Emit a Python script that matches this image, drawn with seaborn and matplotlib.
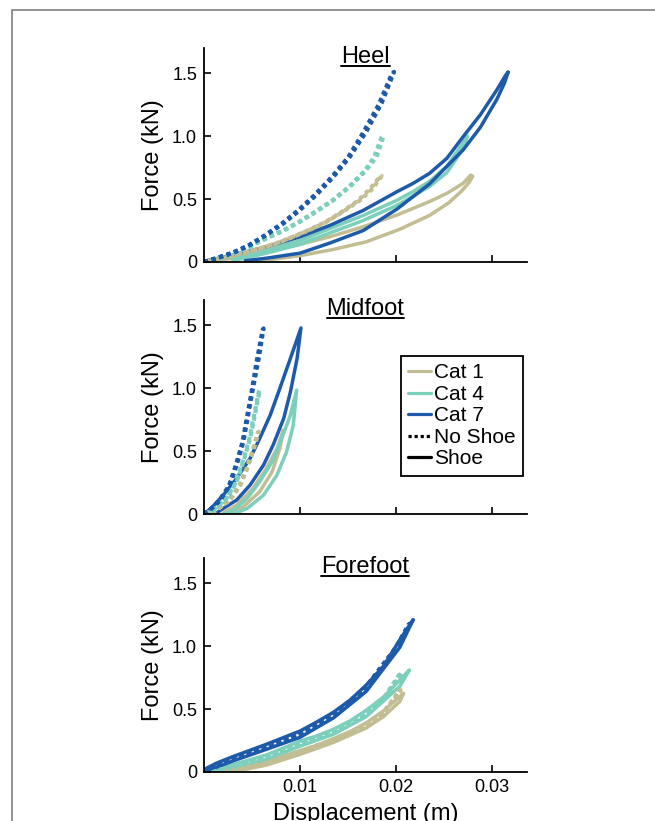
import numpy as np
import pandas as pd
import seaborn as sns
import matplotlib.pyplot as plt
from matplotlib.lines import Line2D
from matplotlib.patches import Rectangle

# displacement (m) / force (kN), one loop per curve
# ---- Heel ----
HEEL_C1_SHOE_X = [.0045, .0065, .0100, .0135, .0169, .0204, .0235, .0255, .0268, .0276, .0280,
                  .0278, .0270, .0253, .0235, .0218, .0201, .0166, .0131, .0100, .0065, .0031, .0003]
HEEL_C1_SHOE_F = [.005, .015, .05, .10, .16, .26, .37, .47, .56, .63, .68,
                  .69, .625, .545, .48, .426, .373, .28, .20, .14, .08, .03, .005]
HEEL_C4_SHOE_X = [.0030, .0065, .0100, .0131, .0166, .0201, .0235, .0253, .0263, .0271, .02745,
                  .0270, .0263, .0253, .0235, .0218, .0201, .0166, .0131, .0100, .0065, .0031, .0003]
HEEL_C4_SHOE_F = [.01, .07, .14, .23, .33, .45, .60, .71, .82, .92, 1.0,
                  .95, .87, .76, .64, .56, .49, .37, .265, .17, .095, .04, .01]
HEEL_C7_SHOE_X = [.0043, .0065, .0100, .0131, .0166, .0201, .0235, .0270, .0288, .0305, .0313, .0317,
                  .0314, .0305, .0288, .0270, .0253, .0235, .0218, .0201, .0166, .0131, .0100, .0065, .0031, .0003]
HEEL_C7_SHOE_F = [.01, .03, .07, .15, .25, .42, .62, .89, 1.07, 1.29, 1.42, 1.51,
                  1.48, 1.365, 1.17, .995, .823, .704, .625, .558, .41, .29, .20, .121, .056, .01]
HEEL_C1_BARE_X = [0, .0024, .0041, .0058, .0076, .0093, .0110, .0128, .0145, .0163, .0176, .0185,
                  .0183, .0173, .0160, .0143, .0126, .0108, .0091, .0074, .0056, .0039, .0022, 0]
HEEL_C1_BARE_F = [0, .04, .069, .106, .148, .20, .254, .32, .40, .492, .585, .683,
                  .675, .58, .485, .395, .315, .25, .195, .145, .103, .066, .037, 0]
HEEL_C4_BARE_X = [0, .0013, .0031, .0048, .0065, .0083, .0100, .0117, .0135, .0152, .0169, .0180, .0187,
                  .0185, .0177, .0167, .0150, .0133, .0115, .0098, .0081, .0063, .0046, .0029, .0011, 0]
HEEL_C4_BARE_F = [0, .025, .069, .121, .188, .249, .32, .40, .492, .598, .73, .836, 1.0,
                  .99, .83, .72, .59, .485, .395, .315, .245, .183, .117, .066, .022, 0]
HEEL_C7_BARE_X = [0, .0013, .0031, .0048, .0065, .0083, .0100, .0117, .0135, .0152, .0169, .0185, .0198,
                  .0196, .0182, .0166, .0150, .0133, .0115, .0098, .0081, .0063, .0046, .0029, .0011, 0]
HEEL_C7_BARE_F = [0, .029, .074, .135, .214, .307, .413, .532, .677, .836, 1.034, 1.26, 1.51,
                  1.50, 1.25, 1.03, .83, .675, .53, .41, .305, .21, .13, .072, .027, 0]

# ---- Midfoot ----
MID_C1_SHOE_X = [.0028, .0041, .0058, .0071, .0079, .00826, .0076, .0065, .0051, .0034, .0020]
MID_C1_SHOE_F = [.01, .058, .177, .336, .521, .667, .521, .362, .204, .071, .01]
MID_C4_SHOE_X = [.0031, .0045, .0062, .0076, .0086, .0093, .00965, .0090, .0081, .0071, .0058, .0045, .0031, .0020]
MID_C4_SHOE_F = [0, .045, .15, .31, .494, .706, .984, .786, .60, .415, .256, .124, .03, 0]
MID_C7_SHOE_X = [.0012, .0017, .0034, .0048, .0062, .0072, .0083, .0090, .0097, .0101,
                 .0090, .0079, .0069, .0058, .0048, .0034, .0020, .0008, 0]
MID_C7_SHOE_F = [0, .03, .111, .23, .389, .548, .759, .97, 1.236, 1.478,
                 1.236, .998, .786, .60, .442, .283, .15, .05, 0]
MID_C1_BARE_X = [0, .0011, .0027, .0038, .0045, .0051, .0057, .0056, .0050, .0044, .0037, .0026, .0010, 0]
MID_C1_BARE_F = [0, .02, .111, .23, .362, .494, .653, .645, .49, .355, .225, .108, .018, 0]
MID_C4_BARE_X = [0, .0010, .0024, .0034, .0041, .0048, .0053, .0058, .0057, .0052, .0047, .0040, .0033, .0023, .0009, 0]
MID_C4_BARE_F = [0, .03, .124, .256, .415, .60, .786, .984, .97, .78, .59, .41, .25, .12, .028, 0]
MID_C7_BARE_X = [0, .0006, .0017, .0027, .0034, .0041, .0046, .0051, .0057, .0062,
                 .0061, .0055, .0050, .0045, .0040, .0033, .0026, .0016, .0005, 0]
MID_C7_BARE_F = [0, .03, .111, .23, .389, .574, .786, .998, 1.236, 1.474,
                 1.46, 1.22, .99, .78, .57, .385, .225, .108, .027, 0]

# ---- Forefoot ----
FORE_C1_SHOE_X = [.0030, .0065, .0100, .0135, .0169, .0187, .0204, .0208,
                  .0204, .0187, .0169, .0152, .0135, .0117, .0100, .0065, .0031, .0015]
FORE_C1_SHOE_F = [0, .055, .14, .235, .35, .44, .56, .625,
                  .60, .485, .39, .32, .265, .21, .17, .08, .03, .005]
FORE_C4_SHOE_X = [.0020, .0031, .0065, .0100, .0135, .0169, .0204, .0214,
                  .0204, .0187, .0169, .0152, .0135, .0117, .0100, .0065, .0031, .0010]
FORE_C4_SHOE_F = [0, .03, .10, .205, .30, .44, .68, .81,
                  .73, .595, .49, .405, .34, .285, .245, .135, .06, .01]
FORE_C7_SHOE_X = [0, .0031, .0065, .0100, .0135, .0169, .0204, .0218,
                  .0204, .0187, .0169, .0152, .0135, .0117, .0100, .0065, .0031, .0013, 0]
FORE_C7_SHOE_F = [0, .09, .18, .275, .43, .64, .99, 1.21,
                  1.05, .84, .69, .57, .475, .395, .325, .22, .125, .07, .02]
FORE_C1_BARE_X = [.0020, .0065, .0100, .0135, .0169, .0187, .0205, .0203, .0185, .0165, .0130, .0095, .0060, .0018]
FORE_C1_BARE_F = [0, .07, .16, .254, .373, .466, .65, .64, .455, .36, .245, .15, .06, 0]
FORE_C4_BARE_X = [.0010, .0031, .0065, .0100, .0135, .0169, .0187, .0206,
                  .0204, .0185, .0165, .0130, .0095, .0060, .0028, .0008]
FORE_C4_BARE_F = [0, .045, .115, .228, .32, .466, .571, .79,
                  .78, .56, .45, .31, .215, .11, .04, 0]
FORE_C7_BARE_X = [0, .0013, .0031, .0065, .0100, .0135, .0169, .0204, .0215,
                  .0213, .0200, .0165, .0130, .0095, .0060, .0028, .0010, 0]
FORE_C7_BARE_F = [0, .05, .107, .20, .30, .452, .664, 1.02, 1.18,
                  1.17, .99, .64, .435, .285, .19, .10, .045, 0]

CATS = ['Cat 1', 'Cat 4', 'Cat 7']
COLORS = {'Cat 1': '#c3bd93', 'Cat 4': '#7ccfba', 'Cat 7': '#1e5aaa'}
PANELS = ['Heel', 'Midfoot', 'Forefoot']

curves = [
    ('Heel', 'Cat 1', 'Shoe', HEEL_C1_SHOE_X, HEEL_C1_SHOE_F),
    ('Heel', 'Cat 4', 'Shoe', HEEL_C4_SHOE_X, HEEL_C4_SHOE_F),
    ('Heel', 'Cat 7', 'Shoe', HEEL_C7_SHOE_X, HEEL_C7_SHOE_F),
    ('Heel', 'Cat 1', 'No Shoe', HEEL_C1_BARE_X, HEEL_C1_BARE_F),
    ('Heel', 'Cat 4', 'No Shoe', HEEL_C4_BARE_X, HEEL_C4_BARE_F),
    ('Heel', 'Cat 7', 'No Shoe', HEEL_C7_BARE_X, HEEL_C7_BARE_F),
    ('Midfoot', 'Cat 1', 'Shoe', MID_C1_SHOE_X, MID_C1_SHOE_F),
    ('Midfoot', 'Cat 4', 'Shoe', MID_C4_SHOE_X, MID_C4_SHOE_F),
    ('Midfoot', 'Cat 7', 'Shoe', MID_C7_SHOE_X, MID_C7_SHOE_F),
    ('Midfoot', 'Cat 1', 'No Shoe', MID_C1_BARE_X, MID_C1_BARE_F),
    ('Midfoot', 'Cat 4', 'No Shoe', MID_C4_BARE_X, MID_C4_BARE_F),
    ('Midfoot', 'Cat 7', 'No Shoe', MID_C7_BARE_X, MID_C7_BARE_F),
    ('Forefoot', 'Cat 1', 'Shoe', FORE_C1_SHOE_X, FORE_C1_SHOE_F),
    ('Forefoot', 'Cat 4', 'Shoe', FORE_C4_SHOE_X, FORE_C4_SHOE_F),
    ('Forefoot', 'Cat 7', 'Shoe', FORE_C7_SHOE_X, FORE_C7_SHOE_F),
    ('Forefoot', 'Cat 1', 'No Shoe', FORE_C1_BARE_X, FORE_C1_BARE_F),
    ('Forefoot', 'Cat 4', 'No Shoe', FORE_C4_BARE_X, FORE_C4_BARE_F),
    ('Forefoot', 'Cat 7', 'No Shoe', FORE_C7_BARE_X, FORE_C7_BARE_F),
]

rows = []
for i, (panel, cat, cond, xs, fs) in enumerate(curves):
    for k, (x, f) in enumerate(zip(xs, fs)):
        rows.append({'Region': panel, 'Category': cat, 'Footwear': cond,
                     'curve': i, 'order': k, 'disp': x, 'force': f})
df = pd.DataFrame(rows)

sns.set_style('ticks')
plt.rcParams['font.family'] = ['Liberation Sans', 'DejaVu Sans']
plt.rcParams.update({'text.color': 'black', 'axes.labelcolor': 'black',
                     'xtick.color': 'black', 'ytick.color': 'black',
                     'axes.edgecolor': 'black'})

fig = plt.figure(figsize=(6.55, 8.21), dpi=100)
fig.add_artist(Rectangle((12 / 655, -0.5), 2, 1.5 - 10 / 821, transform=fig.transFigure,
                         fill=False, edgecolor='#8a8a8a', linewidth=1.3))

bottoms = [0.6809, 0.3739, 0.0597]
axes = []
titles = []
for panel, b in zip(PANELS, bottoms):
    ax = fig.add_axes([0.3115, b, 0.493, 0.2607])
    sub = df[df['Region'] == panel]
    for cond, lw in [('Shoe', 2.5), ('No Shoe', 3.0)]:
        part = sub[sub['Footwear'] == cond]
        n0 = len(ax.lines)
        sns.lineplot(data=part, x='disp', y='force', hue='Category', hue_order=CATS,
                     palette=COLORS, units='curve', estimator=None, sort=False,
                     linewidth=lw, legend=False, ax=ax)
        for ln in ax.lines[n0:]:
            ln.set_solid_joinstyle('round')
            ln.set_solid_capstyle('round')
            if cond == 'No Shoe':
                ln.set_linestyle((0, (1, 0.9)))
    ax.set_xlim(0, 0.03365)
    ax.set_ylim(0, 1.70)
    ax.set_xticks([0.01, 0.02, 0.03])
    ax.set_yticks([0, 0.5, 1.0, 1.5])
    ax.set_yticklabels(['0', '0.5', '1.0', '1.5'])
    ax.tick_params(direction='in', length=5, width=1.2, labelsize=13, pad=5)
    for s in ['left', 'bottom']:
        ax.spines[s].set_linewidth(1.3)
    sns.despine(ax=ax)
    ax.set_ylabel('Force (kN)', fontsize=17, labelpad=6)
    ax.set_xlabel('')
    t = ax.text(0.5, 1.01, panel, transform=ax.transAxes,
                ha='center', va='top', fontsize=17)
    titles.append(t)
    if panel != 'Forefoot':
        ax.set_xticklabels([])
    else:
        ax.set_xticklabels(['0.01', '0.02', '0.03'])
        ax.set_xlabel('Displacement (m)', fontsize=17, labelpad=5)
    axes.append(ax)

handles = [Line2D([], [], color=COLORS[c], lw=2.3) for c in CATS]
handles += [Line2D([], [], color='black', lw=2.3, linestyle=(0, (1, 0.9))),
            Line2D([], [], color='black', lw=2.3)]
leg = axes[1].legend(handles, CATS + ['No Shoe', 'Shoe'], loc='upper right',
                     bbox_to_anchor=(0.988, 0.738), borderaxespad=0, fontsize=15,
                     handlelength=1.1, handletextpad=0.15, labelspacing=0.12,
                     borderpad=0.35, fancybox=False, framealpha=1)
leg.get_frame().set_edgecolor('black')
leg.get_frame().set_linewidth(1.3)

# underline the panel titles
fig.canvas.draw()
inv = fig.transFigure.inverted()
for t in titles:
    bb = t.get_window_extent()
    (x0, y0), (x1, _) = inv.transform([[bb.x0, bb.y0 + 2], [bb.x1, bb.y0]])
    fig.add_artist(Line2D([x0, x1], [y0, y0], transform=fig.transFigure,
                          color='black', lw=1.4))

fig.savefig('out.png', dpi=100)
